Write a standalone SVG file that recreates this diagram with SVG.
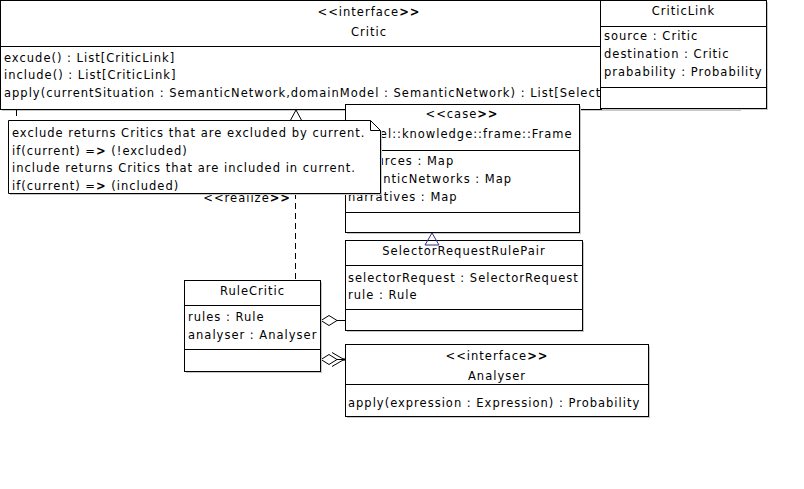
<svg xmlns="http://www.w3.org/2000/svg" width="804" height="489" viewBox="0 0 804 489">
<style>
text{font-family:"DejaVu Sans","Liberation Sans",sans-serif;font-size:11.5px;letter-spacing:1px;fill:#000}
.c{text-anchor:middle}
.e{text-anchor:end}
.box{fill:#fff;stroke:#000;stroke-width:1}
.sh{fill:#c8c8c8}
.ln{stroke:#000;stroke-width:1;fill:none}
.dash{stroke:#000;stroke-width:1;fill:none;stroke-dasharray:6,4}
.b{font-weight:bold}
</style>
<rect width="804" height="489" fill="#fff"/>

<g id="Critic">
<rect class="sh" x="2" y="2" width="739" height="109"/>
<rect class="box" x="0.5" y="0.5" width="739" height="109"/>
<line class="ln" x1="0.5" y1="46.5" x2="739.5" y2="46.5"/>
<text class="c" x="369" y="16">&lt;&lt;interface<tspan class="b">&gt;&gt;</tspan></text>
<text class="c" x="369" y="36">Critic</text>
<text x="4" y="61.5">excude() : List[CriticLink]</text>
<text x="4" y="79">include() : List[CriticLink]</text>
<text x="4" y="96.5">apply(currentSituation : SemanticNetwork,domainModel : SemanticNetwork) : List[Select</text>
</g>

<g id="CriticLink">
<rect class="sh" x="602" y="2" width="166" height="108"/>
<rect class="box" x="600.5" y="0.5" width="166" height="108"/>
<line class="ln" x1="600.5" y1="26.5" x2="766.5" y2="26.5"/>
<line class="ln" x1="600.5" y1="87.5" x2="766.5" y2="87.5"/>
<text class="c" x="683.5" y="15">CriticLink</text>
<text x="604" y="40">source : Critic</text>
<text x="604" y="58">destination : Critic</text>
<text x="604" y="76">prabability : Probability</text>
</g>

<g id="connectors">
<line class="dash" x1="16.5" y1="110" x2="16.5" y2="120"/>
<polygon class="ln" points="296,110 289,123 303,123" fill="#fff"/>
<line class="dash" x1="295.5" y1="193" x2="295.5" y2="280"/>
<text class="e" x="291" y="201.5">&lt;&lt;realize<tspan class="b">&gt;&gt;</tspan></text>
<line class="ln" x1="337" y1="320.5" x2="345" y2="320.5"/>
<polygon points="321,320.5 329,315.5 337,320.5 329,325.5" fill="#fff" stroke="#000"/>
<line class="ln" x1="337" y1="359.5" x2="345" y2="359.5"/>
<polygon points="321,359.5 329,354.5 337,359.5 329,364.5" fill="#fff" stroke="#000"/>
<polyline class="ln" points="332,352.5 344,359.5 332,366.5"/>
<circle cx="344" cy="359.5" r="1.2" fill="#000"/>
</g>

<g id="Frame">
<rect class="sh" x="347" y="106" width="234" height="128"/>
<rect class="box" x="345.5" y="104.5" width="234" height="128"/>
<line class="ln" x1="345.5" y1="150.5" x2="579.5" y2="150.5"/>
<line class="ln" x1="345.5" y1="212.5" x2="579.5" y2="212.5"/>
<text class="c" x="462" y="118">&lt;&lt;case<tspan class="b">&gt;&gt;</tspan></text>
<text class="c" x="462" y="138">model::knowledge::frame::Frame</text>
<text x="348" y="165">resources : Map</text>
<text x="348" y="183">semanticNetworks : Map</text>
<text x="348" y="200.5">narratives : Map</text>
</g>

<g id="note">
<polygon points="10,122 372,122 382,132 382,195 10,195" fill="#c8c8c8"/>
<polygon class="box" points="8.5,120.5 370.5,120.5 380.5,130.5 380.5,193.5 8.5,193.5"/>
<polyline class="ln" points="370.5,120.5 370.5,130.5 380.5,130.5"/>
<text x="12" y="137">exclude returns Critics that are excluded by current.</text>
<text x="12" y="154.5">if(current) =<tspan class="b">&gt;</tspan> (!excluded)</text>
<text x="12" y="172">include returns Critics that are included in current.</text>
<text x="12" y="189.5">if(current) =<tspan class="b">&gt;</tspan> (included)</text>
</g>

<g id="SelectorRequestRulePair">
<rect class="sh" x="347" y="242" width="237" height="90"/>
<rect class="box" x="345.5" y="240.5" width="237" height="90"/>
<line class="ln" x1="345.5" y1="265.5" x2="582.5" y2="265.5"/>
<line class="ln" x1="345.5" y1="309.5" x2="582.5" y2="309.5"/>
<text class="c" x="464" y="255">SelectorRequestRulePair</text>
<text x="348" y="281.5">selectorRequest : SelectorRequest</text>
<text x="348" y="299">rule : Rule</text>
<polygon points="432,233 425,245 439,245" fill="none" stroke="#2b2b8f" stroke-width="1"/>
</g>

<g id="RuleCritic">
<rect class="sh" x="186" y="282" width="136" height="91"/>
<rect class="box" x="184.5" y="280.5" width="136" height="91"/>
<line class="ln" x1="184.5" y1="305.5" x2="320.5" y2="305.5"/>
<line class="ln" x1="184.5" y1="349.5" x2="320.5" y2="349.5"/>
<text class="c" x="252.5" y="295">RuleCritic</text>
<text x="188" y="321">rules : Rule</text>
<text x="188" y="338.5">analyser : Analyser</text>
</g>

<g id="Analyser">
<rect class="sh" x="347" y="346" width="303" height="72"/>
<rect class="box" x="345.5" y="344.5" width="303" height="72"/>
<line class="ln" x1="345.5" y1="384.5" x2="648.5" y2="384.5"/>
<text class="c" x="497" y="360">&lt;&lt;interface<tspan class="b">&gt;&gt;</tspan></text>
<text class="c" x="497" y="380">Analyser</text>
<text x="348" y="407">apply(expression : Expression) : Probability</text>
</g>
</svg>
